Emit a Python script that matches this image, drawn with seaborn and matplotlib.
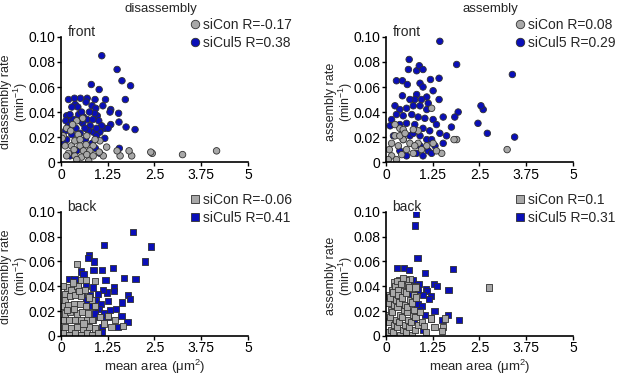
import numpy as np
import pandas as pd
import matplotlib.pyplot as plt
import seaborn as sns

sns.set_theme(style="ticks")
plt.rcParams['font.family'] = ['Liberation Sans', 'DejaVu Sans']
plt.rcParams['mathtext.fontset'] = 'custom'
plt.rcParams['mathtext.rm'] = 'Liberation Sans'
plt.rcParams['mathtext.it'] = 'Liberation Sans:italic'

# --- data ---
x_ticks = [0, 1.25, 2.5, 3.75, 5]
x_tick_labels = ["0", "1.25", "2.5", "3.75", "5"]
y_ticks = [0, 0.02, 0.04, 0.06, 0.08, 0.10]
y_tick_labels = ["0", "0.02", "0.04", "0.06", "0.08", "0.10"]

# front / disassembly
fd_con_x = [4.16, 3.25, 2.44, 2.40, 1.89, 1.82, 1.58, 1.50, 1.13, 1.02, 1.22, 1.04, 0.86, 0.77, 0.74,
            0.58, 0.42, 0.15, 0.06, 0.11, 0.20, 0.28, 0.37, 0.51, 0.60, 0.37, 0.55, 0.69, 0.46, 0.69,
            0.26, 0.67, 0.15, 0.86, 0.42, 0.91, 0.35, 0.51, 0.03, 0.31]
fd_con_y = [0.009, 0.006, 0.007, 0.008, 0.005, 0.009, 0.005, 0.009, 0.005, 0.008, 0.012, 0.017, 0.013, 0.009, 0.001,
            0.035, 0.033, 0.027, 0.021, 0.013, 0.007, 0.013, 0.017, 0.013, 0.009, 0.005, 0.004, 0.006, 0.022, 0.021,
            0.025, 0.014, 0.005, 0.005, 0.002, 0.018, 0.010, 0.018, 0.019, 0.030]
fd_cul_x = [1.09, 1.50, 1.63, 1.86, 0.81, 1.02, 1.72, 1.98, 1.74, 1.54, 1.55, 1.33, 1.31, 1.19, 1.12,
            0.91, 0.70, 0.52, 0.36, 0.20, 0.67, 0.83, 0.93, 0.97, 0.90, 0.38, 0.45, 0.29, 1.33, 1.17,
            1.26, 1.01, 1.09, 1.04, 1.17, 1.56, 0.15, 0.24, 0.13, 0.20, 0.12, 0.28, 0.47, 0.60, 0.70,
            0.58, 0.78, 0.86, 0.95, 0.73, 0.40, 0.51, 0.29, 0.15, 0.06, 0.65, 0.83, 0.92, 1.04, 0.24,
            0.42, 0.55, 0.76, 0.35, 0.85, 0.51, 0.64, 0.95]
fd_cul_y = [0.085, 0.074, 0.065, 0.061, 0.062, 0.058, 0.050, 0.026, 0.028, 0.039, 0.032, 0.042, 0.040, 0.050, 0.045,
            0.050, 0.051, 0.051, 0.051, 0.050, 0.048, 0.045, 0.043, 0.037, 0.039, 0.046, 0.044, 0.044, 0.030, 0.027,
            0.027, 0.033, 0.029, 0.024, 0.019, 0.011, 0.037, 0.038, 0.033, 0.029, 0.025, 0.033, 0.038, 0.036, 0.034,
            0.031, 0.029, 0.024, 0.021, 0.025, 0.027, 0.023, 0.022, 0.018, 0.015, 0.018, 0.015, 0.011, 0.007, 0.005,
            0.009, 0.040, 0.040, 0.034, 0.034, 0.033, 0.027, 0.027]

# front / assembly
fa_con_x = [3.24, 1.89, 1.82, 1.22, 1.49, 1.35, 1.26, 1.09, 0.86, 0.73, 0.37, 0.24, 0.46, 0.09, 0.15,
            0.24, 0.33, 0.46, 0.55, 0.73, 0.64, 0.86, 0.95, 0.77, 0.15, 0.28, 0.42, 0.06, 0.37, 0.51]
fa_con_y = [0.010, 0.018, 0.018, 0.043, 0.007, 0.009, 0.015, 0.013, 0.025, 0.026, 0.027, 0.030, 0.026, 0.010, 0.015,
            0.021, 0.013, 0.018, 0.010, 0.007, 0.015, 0.015, 0.010, 0.013, 0.005, 0.002, 0.006, 0.002, 0.021, 0.023]
fa_cul_x = [1.44, 1.89, 3.38, 3.44, 2.71, 2.46, 2.60, 2.54, 1.93, 1.84, 1.75, 1.53, 1.42, 1.42, 0.62,
            0.60, 0.82, 0.89, 0.99, 0.28, 0.44, 0.57, 0.91, 1.19, 0.99, 1.26, 0.82, 0.44, 1.09, 0.24,
            0.37, 0.55, 0.73, 0.91, 1.09, 0.15, 0.28, 0.46, 0.69, 0.86, 1.04, 1.26, 1.35, 0.11, 0.37,
            0.55, 0.77, 0.99, 1.17, 1.44, 1.62, 1.53, 1.31, 1.13, 0.91, 0.64, 0.46, 0.20, 0.82, 0.55,
            0.37, 0.99, 1.22, 0.73, 0.91, 1.09, 1.22, 1.13, 0.77, 0.64, 0.95]
fa_cul_y = [0.0965, 0.078, 0.070, 0.020, 0.023, 0.031, 0.042, 0.045, 0.040, 0.036, 0.028, 0.036, 0.050, 0.067, 0.082,
            0.074, 0.073, 0.077, 0.074, 0.065, 0.065, 0.062, 0.063, 0.066, 0.060, 0.057, 0.054, 0.053, 0.052, 0.045,
            0.042, 0.043, 0.045, 0.045, 0.042, 0.034, 0.038, 0.037, 0.038, 0.036, 0.035, 0.034, 0.030, 0.029, 0.030,
            0.031, 0.030, 0.027, 0.025, 0.023, 0.021, 0.015, 0.013, 0.009, 0.013, 0.021, 0.018, 0.021, 0.007, 0.005,
            0.009, 0.005, 0.007, 0.023, 0.021, 0.018, 0.018, 0.047, 0.050, 0.050, 0.050]

# back / disassembly
bd_con_x = [0.43, 0.91, 1.66, 1.44, 1.26, 1.35, 0.16, 0.28, 0.11, 0.55, 0.66, 0.44, 0.64, 0.11, 0.25,
            0.39, 0.53, 0.06, 0.20, 0.36, 0.52, 0.66, 0.11, 0.25, 0.43, 0.57, 0.73, 0.06, 0.21, 0.37,
            0.53, 0.69, 0.85, 0.11, 0.27, 0.43, 0.59, 0.75, 0.91, 0.06, 0.21, 0.37, 0.53, 0.69, 0.84,
            0.98, 0.91, 0.82, 1.05, 1.14, 0.82, 0.34, 0.06, 0.31, 0.48, 0.17, 0.74, 0.60]
bd_con_y = [0.058, 0.044, 0.008, 0.013, 0.016, 0.007, 0.039, 0.037, 0.034, 0.045, 0.045, 0.040, 0.037, 0.029, 0.032,
            0.033, 0.032, 0.024, 0.025, 0.026, 0.026, 0.024, 0.018, 0.019, 0.018, 0.019, 0.018, 0.013, 0.013, 0.013,
            0.013, 0.013, 0.013, 0.007, 0.006, 0.007, 0.006, 0.007, 0.006, 0.002, 0.001, 0.002, 0.001, 0.002, 0.001,
            0.002, 0.024, 0.029, 0.015, 0.010, 0.013, 0.022, 0.040, 0.043, 0.036, 0.021, 0.031, 0.010]
bd_cul_x = [1.92, 2.40, 2.24, 1.16, 0.75, 0.73, 0.89, 0.53, 0.60, 0.87, 1.09, 1.39, 1.69, 1.99, 1.19,
            1.41, 1.42, 1.80, 1.84, 1.64, 1.48, 1.62, 1.78, 1.53, 1.23, 1.12, 0.99, 0.85, 0.66, 0.46,
            0.21, 0.36, 0.78, 0.93, 1.07, 1.25, 1.00, 1.14, 1.00, 1.16, 1.09, 1.26, 0.91, 0.82, 0.68,
            0.55, 1.31, 1.10]
bd_cul_y = [0.084, 0.072, 0.060, 0.073, 0.065, 0.063, 0.060, 0.052, 0.050, 0.053, 0.053, 0.055, 0.047, 0.046, 0.045,
            0.039, 0.036, 0.033, 0.030, 0.027, 0.022, 0.016, 0.011, 0.007, 0.035, 0.037, 0.034, 0.039, 0.040, 0.042,
            0.046, 0.046, 0.033, 0.029, 0.026, 0.028, 0.022, 0.018, 0.015, 0.013, 0.007, 0.015, 0.018, 0.024, 0.029,
            0.034, 0.021, 0.003]

# back / assembly
ba_con_x = [2.76, 1.53, 1.49, 1.57, 1.30, 1.21, 0.64, 0.52, 0.36, 0.22, 0.80,
            0.04, 0.07, 0.03, 0.06, 0.09, 0.13, 0.11, 0.15, 0.10, 0.16, 0.19, 0.23, 0.17, 0.22, 0.19,
            0.25, 0.29, 0.26, 0.31, 0.27, 0.33, 0.29, 0.38, 0.34, 0.39, 0.35, 0.32, 0.41, 0.45, 0.42,
            0.48, 0.43, 0.49, 0.46, 0.54, 0.50, 0.56, 0.51, 0.53, 0.58, 0.62, 0.59, 0.57, 0.64, 0.61,
            0.70, 0.67, 0.73, 0.69, 0.74, 0.77, 0.79, 0.75, 0.81, 0.79, 0.87, 0.91, 0.96, 1.01, 1.06]
ba_con_y = [0.039, 0.007, 0.004, 0.014, 0.007, 0.014, 0.046, 0.045, 0.045, 0.043, 0.040,
            0.003, 0.011, 0.017, 0.027, 0.033, 0.005, 0.015, 0.021, 0.031, 0.037, 0.003, 0.009, 0.019, 0.025, 0.035,
            0.040, 0.007, 0.013, 0.023, 0.029, 0.037, 0.044, 0.001, 0.011, 0.017, 0.027, 0.033, 0.042, 0.005, 0.015,
            0.021, 0.031, 0.036, 0.047, 0.003, 0.009, 0.019, 0.025, 0.035, 0.041, 0.007, 0.013, 0.023, 0.029, 0.039,
            0.001, 0.011, 0.017, 0.027, 0.033, 0.005, 0.015, 0.021, 0.031, 0.039, 0.009, 0.019, 0.011, 0.008, 0.003]
ba_cul_x = [0.80, 0.78, 0.84, 0.30, 0.48, 0.62, 1.05, 1.80, 1.28, 1.37, 1.67, 1.07, 1.10, 1.00, 1.21,
            0.85, 0.71, 0.84, 0.96, 1.30, 1.05, 1.65, 1.96, 1.51, 1.00, 0.73, 0.87, 1.14, 0.89, 1.21, 0.75]
ba_cul_y = [0.098, 0.089, 0.063, 0.055, 0.055, 0.053, 0.051, 0.054, 0.042, 0.040, 0.037, 0.038, 0.036, 0.033, 0.032,
            0.037, 0.033, 0.026, 0.024, 0.020, 0.017, 0.017, 0.013, 0.013, 0.005, 0.045, 0.042, 0.030, 0.021, 0.014, 0.013]

con_color = "#a8a8a8"
cul_color = "#0a0fb8"


def draw(ax, con_x, con_y, cul_x, cul_y, con_lab, cul_lab, marker, size):
    # siCul5 rows first so siCon sits on top
    df = pd.DataFrame({
        "area": cul_x + con_x,
        "rate": cul_y + con_y,
        "group": [cul_lab] * len(cul_x) + [con_lab] * len(con_x),
    })
    sns.scatterplot(data=df, x="area", y="rate", hue="group", hue_order=[con_lab, cul_lab],
                    palette={con_lab: con_color, cul_lab: cul_color}, marker=marker, s=size,
                    edgecolor="#303030", linewidth=0.6, ax=ax)
    ax.set_xlim(0, 5)
    ax.set_ylim(0, 0.10)
    ax.set_xticks(x_ticks, x_tick_labels, fontsize=10)
    ax.set_yticks(y_ticks, y_tick_labels, fontsize=10)
    ax.tick_params(length=3, width=1, pad=1, colors="black")
    for sp in ["left", "bottom"]:
        ax.spines[sp].set_linewidth(1.2)
        ax.spines[sp].set_color("black")
    sns.despine(ax=ax)
    ax.set_xlabel("")
    ax.legend(loc="upper left", bbox_to_anchor=(0.68, 1.15), frameon=False, fontsize=10,
              handletextpad=0.05, labelspacing=0.25, borderaxespad=0, markerscale=1.3,
              handlelength=1.0, borderpad=0)


fig = plt.figure(figsize=(6.17, 3.77), dpi=100)
w, h = 0.303, 0.332
ax1 = fig.add_axes([0.0989, 0.570, w, h])
ax2 = fig.add_axes([0.6256, 0.570, w, h])
ax3 = fig.add_axes([0.0989, 0.109, w, 0.329])
ax4 = fig.add_axes([0.6256, 0.109, w, 0.329])

draw(ax1, fd_con_x, fd_con_y, fd_cul_x, fd_cul_y, "siCon R=-0.17", "siCul5 R=0.38", "o", 22)
draw(ax2, fa_con_x, fa_con_y, fa_cul_x, fa_cul_y, "siCon R=0.08", "siCul5 R=0.29", "o", 22)
draw(ax3, bd_con_x, bd_con_y, bd_cul_x, bd_cul_y, "siCon R=-0.06", "siCul5 R=0.41", "s", 20)
draw(ax4, ba_con_x, ba_con_y, ba_cul_x, ba_cul_y, "siCon R=0.1", "siCul5 R=0.31", "s", 20)

for ax, lab in [(ax1, "disassembly"), (ax3, "disassembly"), (ax2, "assembly"), (ax4, "assembly")]:
    ax.set_ylabel(lab + " rate\n(min$^{-1}$)", fontsize=9, linespacing=1.0)
    ax.yaxis.set_label_coords(-0.165, 0.48)
for ax, lab in [(ax1, "front"), (ax2, "front"), (ax3, "back"), (ax4, "back")]:
    ax.text(0.035, 1.04, lab, transform=ax.transAxes, fontsize=10, va="center", ha="left")
for ax in [ax3, ax4]:
    ax.set_xlabel("mean area (\u03bcm$^2$)", fontsize=9.5, labelpad=2)

fig.text(0.26, 0.975, "disassembly", fontsize=9.5, ha="center", va="center")
fig.text(0.795, 0.975, "assembly", fontsize=9.5, ha="center", va="center")

plt.savefig("out.png", dpi=100)
